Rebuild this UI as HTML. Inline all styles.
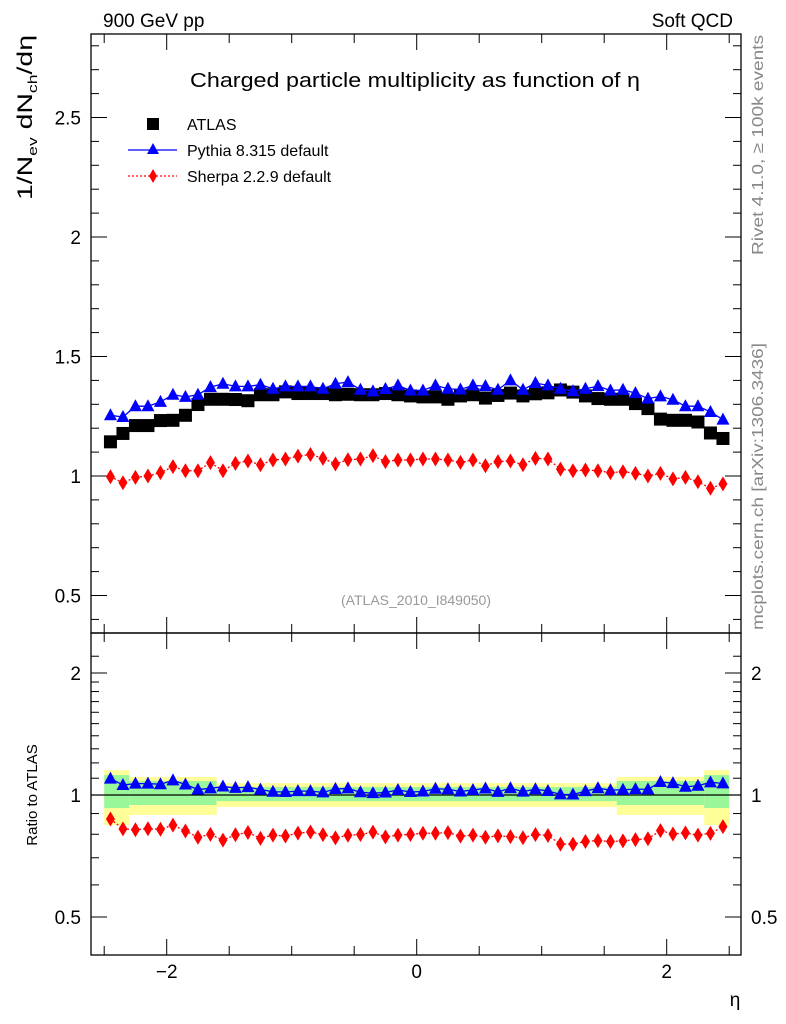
<!DOCTYPE html>
<html><head><meta charset="utf-8"><style>
html,body{margin:0;padding:0;background:#fff;}
svg{display:block;font-family:"Liberation Sans",sans-serif;}
</style></head><body>
<svg id="chart" width="786" height="1024" viewBox="0 0 786 1024">
<g id="bands"></g>
<g id="axes"></g>
<g id="series"></g>
<text x="103" y="27" font-size="19">900 GeV pp</text>
<text x="733" y="27" font-size="19" text-anchor="end">Soft QCD</text>
<text x="190" y="87" font-size="20" textLength="450" lengthAdjust="spacingAndGlyphs">Charged particle multiplicity as function of η</text>
<g>
<rect x="147" y="118" width="12" height="12" fill="#000"/>
<text x="187" y="130" font-size="16">ATLAS</text>
<line x1="128" y1="150" x2="177" y2="150" stroke="#00f" stroke-width="1.3"/>
<polygon points="153,143 159,154 147,154" fill="#00f"/>
<text x="187" y="156" font-size="16">Pythia 8.315 default</text>
<line x1="128" y1="176" x2="177" y2="176" stroke="#f00" stroke-width="1.3" stroke-dasharray="2,2"/>
<polygon points="153,169 157,176 153,183 149,176" fill="#f00"/>
<text x="187" y="182" font-size="16">Sherpa 2.2.9 default</text>
</g>
<text x="416" y="605" font-size="14" fill="#999" text-anchor="middle">(ATLAS_2010_I849050)</text>
<text transform="translate(32,200) rotate(-90)" font-size="21" textLength="165" lengthAdjust="spacingAndGlyphs">1/N<tspan font-size="13" dy="5">ev</tspan><tspan dy="-5"> dN</tspan><tspan font-size="13" dy="5">ch</tspan><tspan dy="-5">/dη</tspan></text>
<text transform="translate(37,795) rotate(-90)" font-size="15" text-anchor="middle">Ratio to ATLAS</text>
<text transform="translate(763,255) rotate(-90)" font-size="16" fill="#888" textLength="220" lengthAdjust="spacingAndGlyphs">Rivet 4.1.0, ≥ 100k events</text>
<text transform="translate(763,630) rotate(-90)" font-size="16" fill="#888" textLength="287" lengthAdjust="spacingAndGlyphs">mcplots.cern.ch [arXiv:1306.3436]</text>
<text x="735" y="1006" font-size="19" text-anchor="middle">η</text>
</svg>
<script>
const atlas=[1.143,1.178,1.211,1.211,1.232,1.233,1.254,1.299,1.321,1.321,1.320,1.315,1.340,1.340,1.352,1.345,1.345,1.345,1.340,1.342,1.340,1.340,1.345,1.340,1.335,1.331,
1.331,1.321,1.335,1.340,1.326,1.337,1.347,1.335,1.344,1.348,1.360,1.351,1.335,1.324,1.321,1.321,1.303,1.282,1.238,1.233,1.233,1.226,1.180,1.157];
const pythia=[1.254,1.247,1.292,1.292,1.310,1.340,1.331,1.340,1.372,1.386,1.375,1.375,1.382,1.365,1.375,1.375,1.375,1.365,1.386,1.393,1.361,1.354,1.364,1.379,1.358,1.358,
1.379,1.365,1.362,1.379,1.376,1.361,1.400,1.361,1.389,1.379,1.365,1.355,1.365,1.376,1.358,1.361,1.347,1.324,1.333,1.319,1.292,1.292,1.268,1.236];
const sherpa=[0.997,0.972,0.994,1.0,1.014,1.039,1.022,1.022,1.056,1.022,1.053,1.063,1.047,1.067,1.071,1.083,1.090,1.074,1.050,1.068,1.071,1.085,1.060,1.067,1.067,1.071,
1.071,1.067,1.057,1.067,1.043,1.060,1.063,1.047,1.074,1.071,1.029,1.022,1.025,1.022,1.014,1.018,1.011,1.0,1.011,0.988,0.994,0.976,0.949,0.967];
const binLo=-2.5, binW=0.1;
const bandEdges=[-2.5,-2.3,-1.6,1.6,2.3,2.5];
const yellowHi=[1.152,1.108,1.07,1.108,1.152];
const yellowLo=[0.843,0.893,0.934,0.893,0.843];
const greenHi=[1.12,1.083,1.046,1.083,1.12];
const greenLo=[0.929,0.945,0.966,0.945,0.929];
const mainTicks=[0.5,1,1.5,2,2.5];
const mainTickLabels=["0.5","1","1.5","2","2.5"];
const ratioTicks=[0.5,1,2];
const ratioTickLabels=["0.5","1","2"];
const xTicks=[-2,0,2];
const xTickLabels=["−2","0","2"];

const NS="http://www.w3.org/2000/svg";
const L=91,R=741,T=34,M=633,B=955;
const X=v=>416.7+v*125;
const Y=v=>476-(v-1)*239;
const YR=r=>795-122*Math.log2(r);
function mk(tag,attrs,parent){const e=document.createElementNS(NS,tag);for(const k in attrs)e.setAttribute(k,attrs[k]);parent.appendChild(e);return e;}
const gB=document.getElementById('bands'),gA=document.getElementById('axes'),gS=document.getElementById('series');

for(let i=0;i<bandEdges.length-1;i++){
  const x0=X(bandEdges[i]),x1=X(bandEdges[i+1]);
  let r=mk('rect',{x:x0,y:YR(yellowHi[i]),width:x1-x0,height:YR(yellowLo[i])-YR(yellowHi[i]),fill:'#ffff99'},gB);
  
  
  r=mk('rect',{x:x0,y:YR(greenHi[i]),width:x1-x0,height:YR(greenLo[i])-YR(greenHi[i]),fill:'#99f799'},gB);
  
  
}
let f=mk('rect',{x:L,y:T,width:R-L,height:M-T,fill:'none',stroke:'#000','stroke-width':1.3},gA);


f=mk('rect',{x:L,y:M,width:R-L,height:B-M,fill:'none',stroke:'#000','stroke-width':1.3},gA);


let ln=mk('line',{x1:L,x2:R,y1:YR(1),y2:YR(1),stroke:'#000','stroke-width':1.3},gA);


for(let v=0.4;v<=2.81;v+=0.1){
  const vv=Math.round(v*10)/10;const y=Y(vv);const maj=Math.abs(vv*2-Math.round(vv*2))<1e-6;const len=maj?16:8;
  mk('line',{x1:L,x2:L+len,y1:y,y2:y,stroke:'#000'},gA);
  mk('line',{x1:R,x2:R-len,y1:y,y2:y,stroke:'#000'},gA);
}
mainTicks.forEach((v,i)=>{const t=mk('text',{x:81,y:Y(v)+7,'font-size':19,'text-anchor':'end'},gA);t.textContent=mainTickLabels[i];

});
[0.4,0.6,0.7,0.8,0.9,1.1,1.2,1.3,1.4,1.5,1.6,1.7,1.8,1.9,2.2].forEach(v=>{const y=YR(v);if(y<M||y>B)return;
  mk('line',{x1:L,x2:L+8,y1:y,y2:y,stroke:'#000'},gA);mk('line',{x1:R,x2:R-8,y1:y,y2:y,stroke:'#000'},gA);});
ratioTicks.forEach((v,i)=>{const y=YR(v);
  mk('line',{x1:L,x2:L+16,y1:y,y2:y,stroke:'#000'},gA);mk('line',{x1:R,x2:R-16,y1:y,y2:y,stroke:'#000'},gA);
  let t=mk('text',{x:81,y:y+7,'font-size':19,'text-anchor':'end'},gA);t.textContent=ratioTickLabels[i];
  
  
  t=mk('text',{x:751,y:y+7,'font-size':19},gA);t.textContent=ratioTickLabels[i];
  
  });
for(let v=-2.5;v<=2.51;v+=0.5){const x=X(v);const maj=Math.abs(v-Math.round(v))<1e-6&&Math.round(v)%2===0;const len=maj?16:9;
  [[T,1],[M,-1],[M,1],[B,-1]].forEach(([y0,d])=>mk('line',{x1:x,x2:x,y1:y0,y2:y0+d*len,stroke:'#000'},gA));}
xTicks.forEach((v,i)=>{const t=mk('text',{x:X(v),y:978,'font-size':19,'text-anchor':'middle'},gA);t.textContent=xTickLabels[i];

});

const cx=i=>X(binLo+binW*(i+0.5));
function tri(x,y){return `${x},${y-7} ${x+6.5},${y+5} ${x-6.5},${y+5}`;}
function dia(x,y){return `${x},${y-7.5} ${x+4.5},${y} ${x},${y+7.5} ${x-4.5},${y}`;}
function drawSeries(vals,yf,kind){
  const pts=vals.map((v,i)=>cx(i)+','+yf(v,i)).join(' ');
  if(kind==='pythia'){const p=mk('polyline',{points:pts,fill:'none',stroke:'#00f','stroke-width':1.3},gS);
    
    }
  if(kind==='sherpa'){const p=mk('polyline',{points:pts,fill:'none',stroke:'#f00','stroke-width':1.3,'stroke-dasharray':'2,2'},gS);
    
    }
  vals.forEach((v,i)=>{const x=cx(i),y=yf(v,i);let m;
    if(kind==='atlas'){m=mk('rect',{x:x-6.5,y:y-6.5,width:13,height:13,fill:'#000'},gS);
      }
    else if(kind==='pythia'){m=mk('polygon',{points:tri(x,y),fill:'#00f'},gS);
      }
    else {m=mk('polygon',{points:dia(x,y),fill:'#f00'},gS);
      }
    });
}
drawSeries(atlas,v=>Y(v),'atlas');
drawSeries(pythia,v=>Y(v),'pythia');
drawSeries(sherpa,v=>Y(v),'sherpa');
drawSeries(pythia,(v,i)=>YR(v/atlas[i]),'pythia');
drawSeries(sherpa,(v,i)=>YR(v/atlas[i]),'sherpa');
</script>
</body></html>
